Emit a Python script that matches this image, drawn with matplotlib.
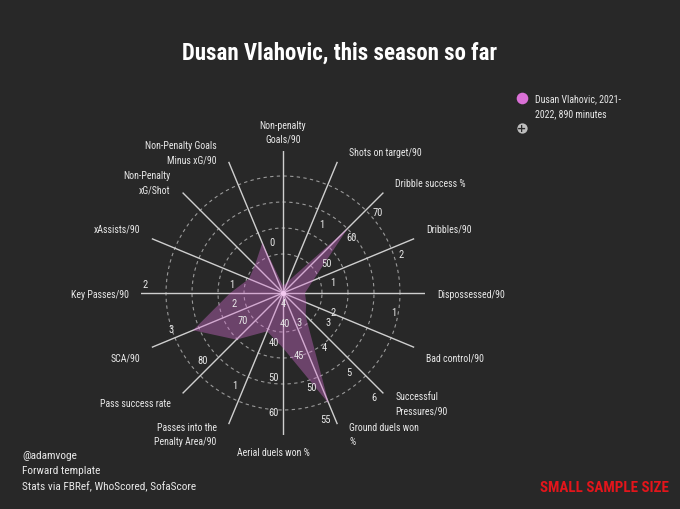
import numpy as np
import matplotlib
matplotlib.use("Agg")
import matplotlib.pyplot as plt

# radar axes, clockwise from the top
labels = ["Non-penalty\nGoals/90", "Shots on target/90", "Dribble success %",
          "Dribbles/90", "Dispossessed/90", "Bad control/90",
          "Successful\nPressures/90", "Ground duels won\n%", "Aerial duels won %",
          "Passes into the\nPenalty Area/90", "Pass success rate", "SCA/90",
          "Key Passes/90", "xAssists/90", "Non-Penalty\nxG/Shot",
          "Non-Penalty Goals\nMinus xG/90"]

# value at the centre and value at the end of each spoke
axis_lo = [0.30, 0.55, 35.5, 0.32, 2.82, 4.08, 2.10, 35.9, 25.9, 0.0, 61.4, 1.27, 0.41, 0.05, 0.06, -0.08]
axis_hi = [0.90, 1.36, 74.9, 2.24, 0.49, 1.15, 6.11, 56.3, 66.5, 1.37, 86.8, 3.37, 2.05, 0.35, 0.20, 0.14]

# Vlahovic 2021-2022, 890 minutes
player = [0.33, 0.62, 61.0, 0.76, 2.46, 3.56, 3.0, 53.1, 41.6, 0.40, 73.2, 2.71, 1.02, 0.128, 0.099, 0.004]

# tick labels shown on each spoke
ticks = [[], [1], [50, 60, 70], [1, 2], [2, 1], [4, 3], [3, 4, 5, 6], [40, 45, 50, 55],
         [40, 50, 60], [1], [70, 80], [2, 3], [1, 2], [], [], [0]]

legend_text = "Dusan Vlahovic, 2021-\n2022, 890 minutes"

BG = "#282828"
PINK = "#da70d6"
TXT = "#e8e8e8"
LABEL_FONT = ["Roboto Condensed", "Lato", "DejaVu Sans"]

W, H = 680, 510
cx, cy, R = 283, 294, 142

fig = plt.figure(figsize=(6.8, 5.1), dpi=100, facecolor=BG)

overlay = fig.add_axes([0, 0, 1, 1])
overlay.set_xlim(0, W)
overlay.set_ylim(H, 0)
overlay.axis("off")

ax = fig.add_axes([(cx - R) / W, 1 - (cy + R) / H, 2 * R / W, 2 * R / H], projection="polar")
ax.set_axis_off()
ax.set_ylim(0, 1)

n = len(labels)
theta = np.deg2rad(90 - 22.5 * np.arange(n))

def to_r(v, i):
    return (v - axis_lo[i]) / (axis_hi[i] - axis_lo[i])

# dashed rings
ring = np.linspace(0, 2 * np.pi, 400)
for rr in [39, 65, 91, 117]:
    ax.plot(ring, np.full_like(ring, rr / R), color="#9a9a9a", lw=0.8,
            ls=(0, (3, 3)), zorder=1)

# spokes
for t in theta:
    ax.plot([t, t], [0, 1], color="#cfcfcf", lw=1.0, zorder=2)

# player shape
r_vals = [to_r(v, i) for i, v in enumerate(player)]
ax.fill(np.append(theta, theta[0]), r_vals + [r_vals[0]], color=PINK, alpha=0.38,
        lw=0, zorder=3)
ax.scatter([0], [0], s=14, color="#f3c9f0", lw=0, zorder=4)

# tick labels, set off to one side of each spoke
for i, t in enumerate(theta):
    pad = 19 if abs(np.cos(t) - 1) < 1e-6 else 9.3
    for v in ticks[i]:
        ax.annotate(str(v), xy=(t, to_r(v, i)),
                    xytext=(pad * np.sin(t), -pad * np.cos(t)),
                    textcoords="offset pixels", ha="center", va="center",
                    color=TXT, fontsize=7.6, family=LABEL_FONT, zorder=5)

# category labels round the outside
lab_kw = dict(textcoords="offset pixels", color=TXT, fontsize=7.1,
              family=LABEL_FONT, linespacing=1.55)
for i, t in enumerate(theta):
    c, s = np.cos(t), np.sin(t)
    if abs(c) < 1e-6:
        if s > 0:
            ax.annotate(labels[i], xy=(t, 1), xytext=(0, 7), ha="center", va="bottom", **lab_kw)
        else:
            ax.annotate(labels[i], xy=(t, 1), xytext=(-10, -17), ha="center", va="center", **lab_kw)
        continue
    dx = 12 if c > 0 else -12
    dy = -1 if abs(s) < 1e-6 else 10 * np.sign(s)
    ax.annotate(labels[i], xy=(t, 1), xytext=(dx, dy),
                ha="left" if c > 0 else "right", va="center", **lab_kw)

# title
fig.text(0.5, 1 - 53 / H, "Dusan Vlahovic, this season so far", ha="center", va="center",
         color="white", fontsize=16.5, fontweight="bold", family=LABEL_FONT)

# legend
overlay.scatter([522], [99], s=70, color=PINK, lw=0)
overlay.text(535, 106.5, legend_text, ha="left", va="center", color=TXT,
             fontsize=7.1, family=LABEL_FONT, linespacing=1.6)
overlay.scatter([522], [129], s=55, color="#bdbdbd", lw=0)
overlay.text(522, 129.5, "+", ha="center", va="center", color=BG, fontsize=8,
             fontweight="bold")

# notes
for y, txt in zip([456, 471, 487], ["@adamvoge", "Forward template",
                                    "Stats via FBRef, WhoScored, SofaScore"]):
    overlay.text(22, y, txt, ha="left", va="center", color=TXT,
                 fontsize=8.2, family=LABEL_FONT)

overlay.text(669, 488, "SMALL SAMPLE SIZE", ha="right", va="center", color="#e3151b",
             fontsize=10.8, fontweight="bold", family=LABEL_FONT)

fig.savefig("out.png", dpi=100, facecolor=BG)
